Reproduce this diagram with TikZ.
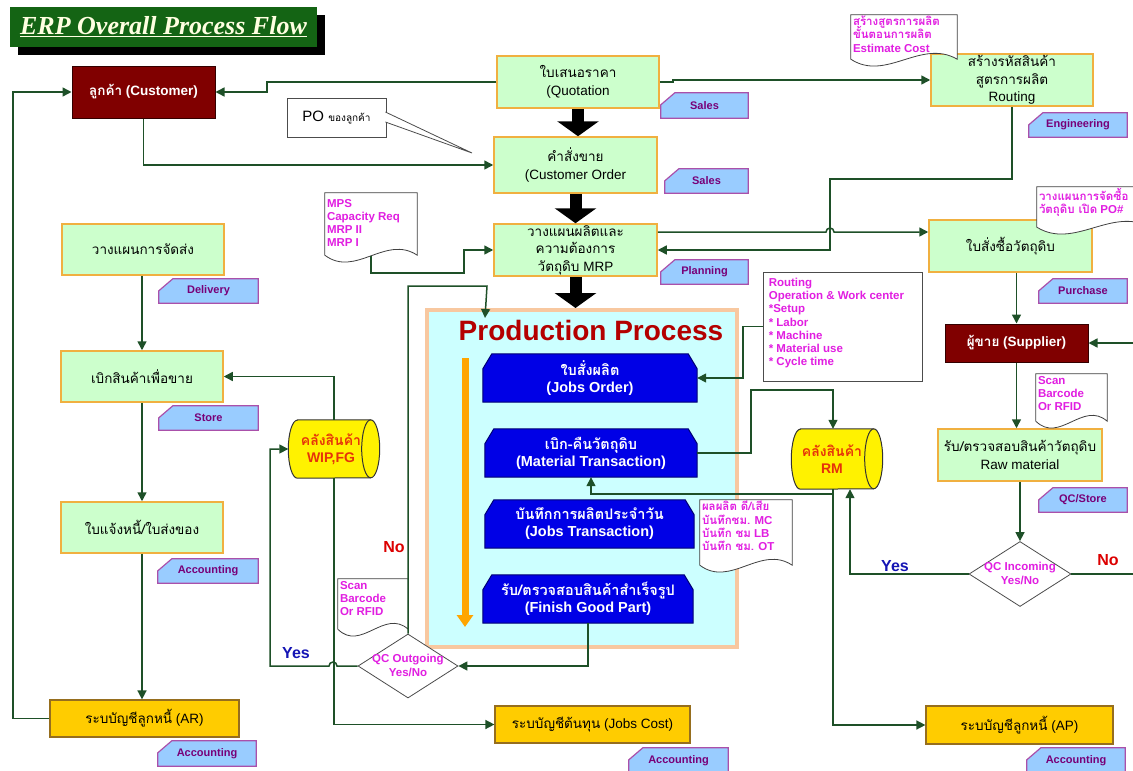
\documentclass[tikz,border=0pt]{standalone}
\usepackage{fontspec}
\setmainfont{Liberation Sans}
\newfontfamily\thai[Script=Thai]{Loma}
\newfontfamily\serifbi{Liberation Serif}
\usetikzlibrary{shapes.geometric,arrows.meta,calc,shadows}
\pgfdeclarelayer{back}
\pgfsetlayers{back,main}
\definecolor{boxgreen}{RGB}{204,255,204}
\definecolor{boxborder}{RGB}{240,176,64}
\definecolor{connc}{RGB}{30,80,40}
\definecolor{tagfill}{RGB}{153,204,255}
\definecolor{tagborder}{RGB}{170,80,170}
\definecolor{tagtext}{RGB}{120,0,120}
\definecolor{maroonc}{RGB}{128,0,0}
\definecolor{goldc}{RGB}{255,204,0}
\definecolor{goldborder}{RGB}{150,110,30}
\definecolor{jobblue}{RGB}{0,0,230}
\definecolor{prodfill}{RGB}{204,255,255}
\definecolor{prodborder}{RGB}{248,200,160}
\definecolor{notemag}{RGB}{225,30,225}
\definecolor{cylred}{RGB}{230,50,10}
\definecolor{titlegreen}{RGB}{20,100,20}
\definecolor{titletext}{RGB}{255,255,225}
\definecolor{yesblue}{RGB}{20,20,180}
\definecolor{nored}{RGB}{220,0,0}
\definecolor{prodtitle}{RGB}{180,0,0}
\definecolor{orangearrow}{RGB}{255,165,0}
\newcommand\mydoc[1]{%
  \draw[docline] (#1.north west) -- (#1.north east) -- ([yshift=7pt]#1.south east)
   .. controls ($(#1.south west)!0.66!(#1.south east)+(0pt,28pt)$) and ($(#1.south west)!0.33!(#1.south east)+(0pt,-16pt)$) .. ([yshift=7pt]#1.south west) -- cycle;}
\newcommand\mycyl[2]{%
  \draw[cylline] ([xshift=9pt]#1.north west) -- ([xshift=-9pt]#1.north east)
    arc[start angle=90,end angle=-90,x radius=9pt,y radius=#2]
    -- ([xshift=9pt]#1.south west)
    arc[start angle=270,end angle=90,x radius=9pt,y radius=#2] -- cycle;
  \draw[cylline,fill=none] ([xshift=-9pt]#1.north east) arc[start angle=90,end angle=270,x radius=9pt,y radius=#2];}
\newcommand\jobshape[1]{%
  \begin{pgfonlayer}{back}
  \draw[jobline] ([yshift=-15pt]#1.north west) -- ([xshift=9pt]#1.north west) -- ([xshift=-9pt]#1.north east) -- ([yshift=-15pt]#1.north east) -- (#1.south east) -- (#1.south west) -- cycle;
  \end{pgfonlayer}}
\newcommand\tagshape[1]{%
  \begin{pgfonlayer}{back}
  \draw[tagline] ([yshift=-12pt]#1.north west) -- ([xshift=14pt]#1.north west) -- (#1.north east) -- (#1.south east) -- (#1.south west) -- cycle;
  \end{pgfonlayer}}
\begin{document}
\lineskiplimit=-40pt\relax
\begin{tikzpicture}[x=1pt,y=-1pt,
  proc/.style={draw=boxborder, line width=1.5pt, fill=boxgreen, align=center, inner sep=0pt, font=\fontsize{13.5}{17.5}\selectfont},
  maroonbox/.style={draw=black!60!maroonc, line width=1pt, fill=maroonc, text=white, align=center, inner sep=0pt, font=\bfseries\fontsize{13.5}{17}\selectfont},
  goldbox/.style={draw=goldborder, line width=1.2pt, fill=goldc, align=center, inner sep=0pt, font=\fontsize{13.5}{17}\selectfont},
  tagbox/.style={rectangle, draw=none, text=tagtext, inner sep=0pt, font=\bfseries\fontsize{11}{13}\selectfont},
  tagline/.style={draw=tagborder, line width=1.2pt, fill=tagfill},
  jobbox/.style={rectangle, draw=none, text=white, align=center, inner sep=0pt, font=\bfseries\fontsize{14.5}{17}\selectfont},
  jobline/.style={draw=black!50!jobblue, line width=1pt, fill=jobblue},
  docline/.style={draw=black!75, fill=white, line width=0.8pt},
  docnode/.style={draw=none, inner sep=0pt},
  notetext/.style={text=notemag, align=left, inner sep=0pt, font=\bfseries\fontsize{11.5}{13.3}\selectfont},
  cylline/.style={draw=black!80, fill=yellow, line width=1pt},
  cyltext/.style={text=cylred, align=center, inner sep=0pt, font=\bfseries\fontsize{14}{17}\selectfont},
  qcdiamond/.style={diamond, draw=black!70, fill=white, line width=0.8pt, inner sep=0pt, shape aspect=1.56},
  qctext/.style={text=notemag, align=center, inner sep=0pt, font=\bfseries\fontsize{11.5}{14}\selectfont},
  yeslbl/.style={text=yesblue, inner sep=0pt, font=\bfseries\fontsize{16}{18}\selectfont},
  nolbl/.style={text=nored, inner sep=0pt, font=\bfseries\fontsize{16}{18}\selectfont},
  link/.style={draw=connc, line width=1.5pt},
  arr/.style={link, -{Triangle[length=9pt,width=9pt]}},
  bigarrow/.style={draw=black, line width=12pt, -{Triangle[length=15pt,width=41pt]}}
]
\useasboundingbox (0,0) rectangle (1133,771);
\coordinate (r232) at (0,232);

% title
\node[fill=titlegreen, minimum width=307pt, minimum height=40pt, inner sep=0pt, text=titletext,
  font=\serifbi\bfseries\itshape\fontsize{26}{30}\selectfont,
  drop shadow={shadow xshift=8pt, shadow yshift=-8pt, fill=black, opacity=1}] (title) at (163.5,27) {\underline{ERP Overall Process Flow}};

% production process frame
\begin{pgfonlayer}{back}
\node[draw=prodborder, line width=4pt, fill=prodfill, minimum width=310pt, minimum height=337pt, inner sep=0pt] (prod) at (582,478.5) {};
\end{pgfonlayer}
\node[text=prodtitle, inner sep=0pt, font=\bfseries\fontsize{28}{30}\selectfont] (prodttl) at (591,330) {Production Process};
\coordinate (oa1) at (465,358);
\coordinate (oa2) at (465,627);
\draw[line width=7pt, draw=orangearrow, -{Triangle[length=12pt,width=16pt]}] (oa1) -- (oa2);

% job boxes
\node[jobbox, minimum width=214pt, minimum height=48pt] (jo) at (590,378) {{\thai ใบสั่งผลิต}\\(Jobs Order)};
\jobshape{jo}
\node[jobbox, minimum width=212pt, minimum height=48pt] (mt) at (591,453) {{\thai เบิก-คืนวัตถุดิบ}\\(Material Transaction)};
\jobshape{mt}
\node[jobbox, minimum width=209pt, minimum height=48pt] (jt) at (589.5,524) {{\thai บันทึกการผลิตประจำวัน}\\(Jobs Transaction)};
\jobshape{jt}
\node[jobbox, minimum width=210pt, minimum height=48pt] (fg) at (588,599) {{\thai รับ/ตรวจสอบสินค้าสำเร็จรูป}\\(Finish Good Part)};
\jobshape{fg}

% main boxes
\node[maroonbox, minimum width=143pt, minimum height=52pt] (cust) at (143.5,92) {{\thai ลูกค้า} (Customer)};
\node[proc, minimum width=162pt, minimum height=52pt] (quot) at (578,82) {{\thai ใบเสนอราคา}\\(Quotation};
\node[proc, minimum width=163pt, minimum height=56pt] (order) at (575.5,165) {{\thai คำสั่งขาย}\\(Customer Order};
\node[proc, minimum width=163pt, minimum height=52pt] (mrp) at (575.5,250) {{\thai วางแผนผลิตและ}\\{\thai ความต้องการ}\\{\thai วัตถุดิบ} MRP};
\node[proc, minimum width=162pt, minimum height=52pt] (eng) at (1012,80) {{\thai สร้างรหัสสินค้า}\\{\thai สูตรการผลิต}\\Routing};
\node[proc, minimum width=163pt, minimum height=52pt] (purch) at (1010.5,246) {{\thai ใบสั่งซื้อวัตถุดิบ}};
\node[maroonbox, minimum width=143pt, minimum height=38pt] (supp) at (1016.5,343) {{\thai ผู้ขาย} (Supplier)};
\node[proc, minimum width=164pt, minimum height=52pt] (raw) at (1020,455) {{\thai รับ/ตรวจสอบสินค้าวัตถุดิบ}\\Raw material};
\node[proc, minimum width=162pt, minimum height=51pt] (deliv) at (143,249.5) {{\thai วางแผนการจัดส่ง}};
\node[proc, minimum width=162pt, minimum height=51pt] (wd) at (142,376.5) {{\thai เบิกสินค้าเพื่อขาย}};
\node[proc, minimum width=162pt, minimum height=51pt] (inv) at (142,527.5) {{\thai ใบแจ้งหนี้/ใบส่งของ}};
\node[goldbox, minimum width=189pt, minimum height=37pt] (ar) at (144.5,718.5) {{\thai ระบบัญชีลูกหนี้} (AR)};
\node[goldbox, minimum width=195pt, minimum height=37pt] (jcost) at (592.5,724.5) {{\thai ระบบัญชีต้นทุน} (Jobs Cost)};
\node[goldbox, minimum width=187pt, minimum height=38pt] (ap) at (1019.5,725) {{\thai ระบบัญชีลูกหนี้} (AP)};

% tags
\node[tagbox, minimum width=87pt, minimum height=25pt] (tq) at (704.5,105.5) {Sales}; \tagshape{tq}
\node[tagbox, minimum width=83pt, minimum height=24pt] (to) at (706.5,181) {Sales}; \tagshape{to}
\node[tagbox, minimum width=87pt, minimum height=24pt] (tp) at (704.5,272) {Planning}; \tagshape{tp}
\node[tagbox, minimum width=98pt, minimum height=24pt] (te) at (1078,125) {Engineering}; \tagshape{te}
\node[tagbox, minimum width=88pt, minimum height=24pt] (tpu) at (1083,291) {Purchase}; \tagshape{tpu}
\node[tagbox, minimum width=88pt, minimum height=24pt] (tqc) at (1083,500) {QC/Store}; \tagshape{tqc}
\node[tagbox, minimum width=99pt, minimum height=24pt] (tde) at (208.5,291) {Delivery}; \tagshape{tde}
\node[tagbox, minimum width=99pt, minimum height=24pt] (tst) at (208.5,418) {Store}; \tagshape{tst}
\node[tagbox, minimum width=100pt, minimum height=24pt] (tac1) at (208,571) {Accounting}; \tagshape{tac1}
\node[tagbox, minimum width=98pt, minimum height=25pt] (tac2) at (207,753.5) {Accounting}; \tagshape{tac2}
\node[tagbox, minimum width=99pt, minimum height=25pt] (tac3) at (678.5,760.5) {Accounting}; \tagshape{tac3}
\node[tagbox, minimum width=98pt, minimum height=25pt] (tac4) at (1076,760.5) {Accounting}; \tagshape{tac4}

% cylinders
\node[docnode, minimum width=91pt, minimum height=58pt] (wipc) at (334,449) {};
\mycyl{wipc}{29pt}
\node[cyltext] (wip) at ([xshift=-3pt]wipc.center) {{\thai คลังสินค้า}\\WIP,FG};
\node[docnode, minimum width=91pt, minimum height=60pt] (rmc) at (837,459) {};
\mycyl{rmc}{30pt}
\node[cyltext] (rm) at ([xshift=-5pt]rmc.center) {{\thai คลังสินค้า}\\RM};

% diamonds
\node[qcdiamond, minimum width=100pt, minimum height=64pt] (qco) at (408,666) {};
\node[qctext] (qcot) at (408,665) {QC Outgoing\\Yes/No};
\node[qcdiamond, minimum width=102pt, minimum height=65pt] (qci) at (1020,574) {};
\node[qctext] (qcit) at (1020,573) {QC Incoming\\Yes/No};

% labels
\node[yeslbl] (yes1) at (296,653) {Yes};
\node[nolbl] (no1) at (394,547) {No};
\node[yeslbl] (yes2) at (895,566) {Yes};
\node[nolbl] (no2) at (1108,560) {No};

% PO callout
\node[draw=black!70, fill=white, line width=0.8pt, minimum width=99pt, minimum height=39pt, inner sep=0pt] (po) at (336.5,117.5) {\fontsize{15}{17}\selectfont PO \fontsize{10}{12}\thai ของลูกค้า};
\draw[draw=black!70, fill=white, line width=0.8pt] ([xshift=-1pt,yshift=5.5pt]po.east) -- (472,153) -- ([xshift=-1pt,yshift=-4.5pt]po.east);

% routing note
\node[draw=black!70, fill=white, line width=0.8pt, minimum width=159pt, minimum height=109pt, inner sep=0pt] (rtg) at (842.5,326.5) {};
\node[notetext, anchor=north west] (rtgt) at ([xshift=6pt,yshift=-6pt]rtg.north west) {Routing\\Operation \& Work center\\*Setup\\* Labor\\* Machine\\* Material use\\* Cycle time};

% documents
\node[docnode, minimum width=92pt, minimum height=69pt] (mps) at (371,227.5) {};
\mydoc{mps}
\node[notetext, anchor=north west] (mpst) at ([xshift=2pt,yshift=-6pt]mps.north west) {MPS\\Capacity Req\\MRP II\\MRP I};
\node[docnode, minimum width=106pt, minimum height=51pt] (engn) at (904,40.5) {};
\mydoc{engn}
\node[notetext, anchor=north west] (engnt) at ([xshift=2pt,yshift=-1pt]engn.north west) {{\thai สร้างสูตรการผลิต}\\{\thai ขั้นตอนการผลิต}\\Estimate Cost};
\node[docnode, minimum width=113pt, minimum height=47pt] (purn) at (1093.5,210.5) {};
\mydoc{purn}
\node[notetext, anchor=north west] (purnt) at ([xshift=2pt,yshift=-1pt]purn.north west) {{\thai วางแผนการจัดซื้อ}\\{\thai วัตถุดิบ เปิด} PO\#};
\node[docnode, minimum width=92pt, minimum height=72pt] (jtn) at (746,536) {};
\mydoc{jtn}
\node[notetext, anchor=north west] (jtnt) at ([xshift=2pt,yshift=-1pt]jtn.north west) {{\thai ผลผลิต ดี/เสีย}\\{\thai บันทึกชม.} MC\\{\thai บันทึก ชม} LB\\{\thai บันทึก ชม.} OT};
\node[docnode, minimum width=71pt, minimum height=54pt] (scan1) at (1071.5,401) {};
\mydoc{scan1}
\node[notetext, anchor=north west] (scan1t) at ([xshift=2pt,yshift=-2pt]scan1.north west) {Scan\\Barcode\\Or RFID};
\node[docnode, minimum width=70pt, minimum height=57pt] (scan2) at (373,607.5) {};
\mydoc{scan2}
\node[notetext, anchor=north west] (scan2t) at ([xshift=2pt,yshift=-2pt]scan2.north west) {Scan\\Barcode\\Or RFID};

% big arrows
\draw[bigarrow] (quot.south) -- (quot.south |- order.north);
\draw[bigarrow] (order.south) -- (order.south |- mrp.north);
\draw[bigarrow] (mrp.south) -- (mrp.south |- prod.north);

% connectors
\draw[arr] (quot.west) -- (267,82) -- (267,92) -- (cust.east);
\draw[arr] (cust.south) |- (order.west);
\draw[arr] (quot.east) -- (673,82) -- (673,80) -- (eng.west);
\draw[arr] ([yshift=6pt]mps.south) |- (464,273) |- (mrp.west);
\draw[arr] (mrp.east |- r232) -- (826,232) arc[start angle=180,end angle=0,radius=4pt] -- (purch.west |- r232);
\draw[arr] (eng.south) |- (830,179) |- (mrp.east);
\draw[arr] (supp.north |- purch.south) -- (supp.north);
\draw[arr] (supp.south) -- (supp.south |- raw.north);
\draw[arr] (raw.south) -- (qci.north);
\draw[arr] (qci.west) -| ([xshift=13pt]rmc.south);
\draw[arr] (qci.east) -- (1150,574) |- (supp.east);
\draw[arr] (rtg.west) -- (743,326.5) |- (jo.east);
\draw[arr] (mt.east) -| (751,390) -| ([xshift=-4pt]rmc.north);
\draw[arr] ([xshift=-4pt]rmc.south) |- (ap.west);
\draw[arr] ([xshift=-4pt,yshift=-5pt]rmc.south) -| (mt.south);
\draw[arr] (fg.south) |- (qco.east);
\draw[arr] (qco.west) -- (337,666) arc[start angle=0,end angle=180,radius=4pt] -- (270,666) |- (wipc.west);
\draw[arr] (wipc.north) |- (wd.east);
\draw[arr] (wipc.south) |- (jcost.west);
\draw[arr] (qco.north) |- (487,286) -- ([xshift=60pt,yshift=-10pt]prod.north west);
\draw[arr] (ar.west) -- (13,718.5) |- (cust.west);
\draw[arr] (wd.north |- deliv.south) -- (wd.north);
\draw[arr] (wd.south) -- (inv.north);
\draw[arr] (inv.south) -- (inv.south |- ar.north);
\end{tikzpicture}
\end{document}
